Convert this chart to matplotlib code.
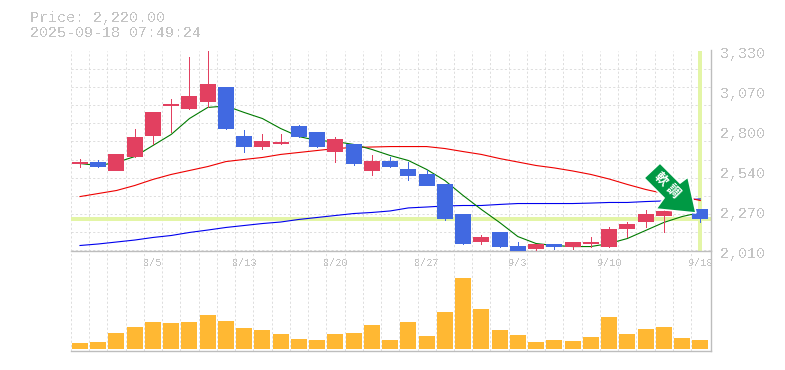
import matplotlib
matplotlib.use('Agg')
import matplotlib.pyplot as plt
from matplotlib.patches import Polygon
from matplotlib.ticker import FixedLocator, NullLocator

W, H = 785, 370

plt.rcParams['text.antialiased'] = False

# precios
opens = [2581, 2597, 2538, 2630, 2769, 2964, 2947, 2993, 3086, 2769, 2696, 2710, 2835, 2795, 2657, 2710, 2538, 2604, 2551, 2512, 2446, 2254, 2069, 2129, 2043, 2023, 2056, 2030, 2056, 2036, 2149, 2195, 2241, 2287, 2281]
highs = [2611, 2604, 2644, 2809, 2927, 3007, 3290, 3330, 3086, 2802, 2776, 2776, 2835, 2795, 2756, 2710, 2637, 2624, 2597, 2538, 2446, 2254, 2109, 2129, 2063, 2056, 2056, 2063, 2102, 2168, 2195, 2274, 2274, 2340, 2287]
lows = [2560, 2558, 2538, 2630, 2710, 2795, 2947, 2954, 2809, 2657, 2683, 2710, 2762, 2696, 2597, 2571, 2505, 2564, 2472, 2439, 2208, 2050, 2050, 2030, 2010, 2005, 2020, 2023, 2030, 2036, 2096, 2168, 2135, 2287, 2195]
closes = [2594, 2560, 2644, 2762, 2921, 2976, 3033, 3106, 2815, 2696, 2736, 2729, 2762, 2696, 2743, 2578, 2604, 2564, 2505, 2439, 2221, 2056, 2096, 2036, 2010, 2056, 2030, 2063, 2064, 2155, 2182, 2248, 2274, 2340, 2218]
volumes = [60, 70, 160, 220, 270, 260, 270, 340, 280, 210, 190, 150, 100, 90, 150, 160, 240, 90, 270, 130, 370, 710, 400, 190, 140, 70, 90, 80, 120, 320, 150, 200, 220, 110, 90]

ma_short = [2584, 2571, 2591, 2630, 2703, 2776, 2881, 2954, 2964, 2921, 2881, 2815, 2762, 2736, 2729, 2710, 2677, 2637, 2604, 2545, 2472, 2373, 2281, 2195, 2102, 2056, 2043, 2036, 2036, 2056, 2089, 2142, 2195, 2234, 2261]
ma_mid = [2366, 2386, 2406, 2439, 2479, 2512, 2538, 2564, 2597, 2611, 2624, 2644, 2657, 2670, 2683, 2690, 2693, 2696, 2696, 2696, 2683, 2663, 2644, 2617, 2594, 2571, 2555, 2535, 2512, 2482, 2446, 2413, 2386, 2366, 2340]
ma_long = [2043, 2053, 2066, 2079, 2096, 2109, 2129, 2145, 2162, 2175, 2188, 2198, 2215, 2228, 2241, 2254, 2261, 2271, 2291, 2297, 2304, 2307, 2307, 2314, 2320, 2320, 2320, 2320, 2323, 2327, 2327, 2333, 2337, 2343, 2350]

date_labels = ['8/5', '8/13', '8/20', '8/27', '9/3', '9/10', '9/18']
date_idx = [4, 9, 14, 19, 24, 29, 34]
price_ticks = [2010, 2274, 2538, 2802, 3066, 3330]
price_labels = ['2,010', '2,270', '2,540', '2,800', '3,070', '3,330']
last_price = 2220

UP = '#e24060'
DOWN = '#4169e1'
GRID = '#d8d8d8'
FRAME = '#bdbdbd'
MARK = '#e3f5a6'
TEXT = '#c4c4c4'
MONO = 'Liberation Mono'
DASH = (0, (2.6, 2.6))


def make_axes(fig, left, top, right, bottom):
    return fig.add_axes([left / W, 1 - bottom / H, (right - left) / W, (bottom - top) / H])


fig = plt.figure(figsize=(W / 100, H / 100), dpi=100)
ax = make_axes(fig, 70.5, 50.5, 710.5, 250.5)
axv = make_axes(fig, 70.5, 250.5, 710.5, 350.5)
axv.patch.set_visible(False)

n = len(closes)
x = list(range(n))
for a in (ax, axv):
    a.set_xlim(-0.52, n - 1 + 0.56)
    a.xaxis.set_major_locator(FixedLocator([i + 0.5 for i in range(-1, n - 1)]))
    a.grid(True, axis='x', color=GRID, lw=0.6, ls=DASH, zorder=0)
    a.tick_params(length=0, labelbottom=False, labelleft=False)
    a.set_axisbelow(True)
    for s in ('top', 'left'):
        a.spines[s].set_visible(False)
    for s in ('right', 'bottom'):
        a.spines[s].set_color(FRAME)
        a.spines[s].set_linewidth(1)

# panel de precios
ax.set_ylim(2010, 3330)
ax.yaxis.set_major_locator(FixedLocator([2010 + 120 * i for i in range(12)]))
ax.grid(True, axis='y', color=GRID, lw=0.6, ls=DASH, zorder=0)

ax.axhline(last_price, color=MARK, lw=2.6, zorder=1, antialiased=False)
ax.axvline(n - 1, color=MARK, lw=2.6, zorder=1, antialiased=False)

ax.plot(x, ma_long, color='#0000ee', lw=0.8, zorder=2)
ax.plot(x, ma_mid, color='#ee0000', lw=0.8, zorder=2)
ax.plot(x, ma_short, color='#007a00', lw=0.8, zorder=2)

for i in x:
    col = UP if closes[i] >= opens[i] else DOWN
    ax.vlines(i, lows[i], highs[i], color=col, lw=0.55, zorder=3, antialiased=False)
    body = abs(closes[i] - opens[i])
    ax.bar(i, body, bottom=min(opens[i], closes[i]), width=0.877, color=col, lw=0, zorder=3, antialiased=False)

for i, lab in zip(date_idx, date_labels):
    ax.text(i, -0.06, lab, transform=ax.get_xaxis_transform(), ha='center', va='center',
            color=TEXT, fontsize=7.4, family=MONO)
for p, lab in zip(price_ticks, price_labels):
    ax.annotate(lab, (1, p), xycoords=ax.get_yaxis_transform(), xytext=(7, -2.5),
                textcoords='offset points', ha='left', va='center',
                color=TEXT, fontsize=10.8, family=MONO, annotation_clip=False)

# panel de volumen
axv.set_ylim(-20, 980)
axv.yaxis.set_major_locator(NullLocator())
axv.bar(x, volumes, width=0.877, color='#ffb833', lw=0, zorder=3, antialiased=False)

# flecha
arrow = [(660, 163), (680, 183), (688, 177), (696, 213), (656, 209), (664, 198), (644, 178)]
to_fig = [(px / W, 1 - py / H) for px, py in arrow]
fig.add_artist(Polygon(to_fig, closed=True, transform=fig.transFigure, facecolor='#009944',
                       edgecolor='white', lw=1.2, zorder=10, joinstyle='miter'))
t1 = fig.text(661 / W, 1 - 179 / H, '軟', color='white', fontsize=9.5, weight='bold', rotation=-45,
              ha='center', va='center', family='Noto Sans CJK JP', zorder=11, antialiased=True)
t2 = fig.text(673 / W, 1 - 191 / H, '調', color='white', fontsize=9.5, weight='bold', rotation=-45,
              ha='center', va='center', family='Noto Sans CJK JP', zorder=11, antialiased=True)

fig.text(30 / W, 1 - 18 / H, 'Price: 2,220.00', color=TEXT, fontsize=10.8, family=MONO, va='center')
fig.text(30 / W, 1 - 33 / H, '2025-09-18 07:49:24', color=TEXT, fontsize=10.8, family=MONO, va='center')

fig.savefig('out.png', dpi=100)
